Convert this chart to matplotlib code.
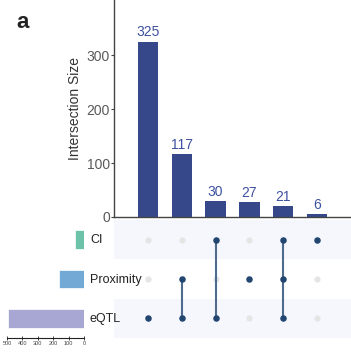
import matplotlib
matplotlib.use("Agg")
import matplotlib.pyplot as plt
import numpy as np

plt.rcParams['font.family'] = ['Liberation Sans', 'DejaVu Sans']

sets = ["CI", "Proximity", "eQTL"]
set_colors = ["#6cc3a9", "#72a9d5", "#a8a6d2"]
intersection_sizes = [325, 117, 30, 27, 21, 6]
# membership per intersection: which sets are included
memberships = [
    ["eQTL"],
    ["Proximity", "eQTL"],
    ["CI", "eQTL"],
    ["Proximity"],
    ["CI", "Proximity", "eQTL"],
    ["CI"],
]
yticks_top = [0, 100, 200, 300]
xticks_left = [500, 400, 300, 200, 100, 0]

# set sizes computed from the intersections
set_sizes = [sum(s for s, m in zip(intersection_sizes, memberships) if name in m) for name in sets]

W, H = 351, 354
fig = plt.figure(figsize=(W / 100, H / 100), dpi=100)

def ax_px(x0, y0, x1, y1):
    return fig.add_axes([x0 / W, 1 - y1 / H, (x1 - x0) / W, (y1 - y0) / H])

bar_color = "#36488a"
txt_color = "#3e51a0"
grey = "#5a5a5a"
spine_c = "#444444"

n = len(intersection_sizes)
xs = np.arange(n)

# --- top bar chart ---
axb = ax_px(114, 0, 351, 217)
axb.bar(xs, intersection_sizes, width=0.6, color=bar_color, zorder=2)
for x, v in zip(xs, intersection_sizes):
    axb.text(x, v + 4, str(v), ha="center", va="bottom", color=txt_color, fontsize=10)
axb.set_xlim(-1, 6)
axb.set_ylim(0, 402)
axb.set_yticks(yticks_top)
axb.set_xticks([])
for s in ["top", "right"]:
    axb.spines[s].set_visible(False)
for s in ["left", "bottom"]:
    axb.spines[s].set_color(spine_c)
    axb.spines[s].set_linewidth(1.0)
axb.tick_params(axis="y", colors=spine_c, labelcolor=grey, labelsize=10, length=2, width=0.8, pad=1)
axb.set_ylabel("Intersection Size", fontsize=10, color="#333333", labelpad=3)

# --- matrix ---
axm = ax_px(114, 220, 351, 338)
axm.set_xlim(-1, 6)
axm.set_ylim(2.5, -0.5)
for r in range(len(sets)):
    if r % 2 == 0:
        axm.axhspan(r - 0.5, r + 0.5, color="#f5f7fc", zorder=0, lw=0)
for i, m in enumerate(memberships):
    rows = [sets.index(s) for s in m]
    for r in range(len(sets)):
        if r not in rows:
            axm.scatter(i, r, s=20, color="#e5e5e5", zorder=2, lw=0)
    if len(rows) > 1:
        axm.plot([i, i], [min(rows), max(rows)], color="#4e6b8e", lw=1.5, zorder=3)
    axm.scatter([i] * len(rows), rows, s=22, color="#22466f", zorder=4, lw=0)
axm.axis("off")

# --- set size bars ---
axs = ax_px(7, 220, 84, 338)
axs.barh(range(len(sets)), set_sizes, height=0.47, color=set_colors, edgecolor="white", lw=0.5)
axs.set_xlim(500, 0)
axs.set_ylim(2.5, -0.5)
axs.set_yticks([])
axs.set_xticks(xticks_left)
for s in ["top", "right", "left"]:
    axs.spines[s].set_visible(False)
axs.spines["bottom"].set_color("#222222")
axs.spines["bottom"].set_linewidth(0.8)
axs.tick_params(axis="x", labelsize=4, length=2.5, width=0.6, direction="inout", pad=1, colors="#222222")
axs.tick_params(axis="x", labelcolor="#444444")
axs.patch.set_alpha(0)

for r, name in enumerate(sets):
    fig.text(90 / W, 1 - (240 + 39.5 * r) / H, name, ha="left", va="center", fontsize=9, color="#222222")

fig.text(16 / W, 1 - 28 / H, "a", fontsize=16, fontweight="bold", color="#222222", ha="left", va="baseline")

fig.savefig("out.png", dpi=100)
